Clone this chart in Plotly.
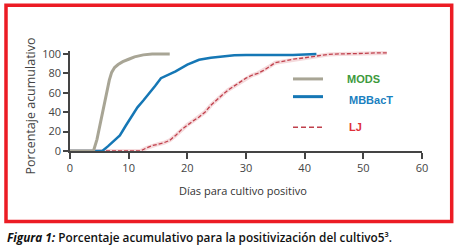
import plotly.graph_objects as go

# ---- data ----
mods_days = [0, 4.0, 4.6, 5.1, 5.7, 6.2, 6.7, 7.1, 7.6, 8.2, 9.0, 10.0, 11.0, 12.5, 14.0, 17.0]
mods_pct = [0, 0, 12, 27, 45, 61, 73, 81, 86, 89, 92, 94.5, 97, 99, 100, 100]

mbbact_days = [0, 5.5, 6.5, 7.5, 8.5, 9.5, 10.5, 11.5, 12.5, 13.5, 14.5, 15.5, 16.5, 18, 20, 22, 24, 26, 28, 30, 35, 38, 42]
mbbact_pct = [0, 0, 5, 10, 16, 26, 36, 45, 52, 59, 67, 75, 78, 82, 89, 94, 96, 97.5, 98.5, 99, 99, 99, 100]

lj_days = [0, 12, 13, 14, 15, 16, 17, 18, 19, 20, 21, 22, 23, 24, 25, 26, 27, 28, 29, 30, 31, 32, 33,
           34, 35, 36, 37, 38, 40, 42, 44, 46, 48, 50, 52, 54]
lj_pct = [0, 0, 3, 5.5, 7, 8.5, 11, 16, 22, 27, 31, 35, 40, 47, 53, 58, 63, 67, 71, 75, 78, 80, 83,
          87, 91, 92, 93.5, 94.5, 96, 98, 99.5, 100, 100, 100.5, 101, 101]

series_names = ["MODS", "MBBacT", "LJ"]
x_ticks = [0, 10, 20, 30, 40, 50, 60]
y_ticks = [0, 20, 40, 60, 80, 100]

# ---- geometry (reference pixel coords) ----
FW, FH = 458, 249
L, R, T, B = 70, 422, 51.1, 151
W = R - L
H = B - T
def px(x):
    return (x - L) / W
def py(y):
    return (B - y) / H

fig = go.Figure()
fig.add_trace(go.Scatter(x=lj_days, y=lj_pct, mode="lines",
                         line=dict(color="rgba(225,150,155,0.35)", width=4),
                         hoverinfo="skip", showlegend=False))
fig.add_trace(go.Scatter(x=lj_days, y=lj_pct, mode="lines", name="LJ",
                         line=dict(color="#c0404c", width=1.3, dash="4px,2px"), showlegend=False))
fig.add_trace(go.Scatter(x=mbbact_days, y=mbbact_pct, mode="lines", name="MBBacT",
                         line=dict(color="#1577b5", width=2.5), showlegend=False))
fig.add_trace(go.Scatter(x=mods_days, y=mods_pct, mode="lines", name="MODS",
                         line=dict(color="#a8a595", width=3), showlegend=False))

font_main = "Open Sans, DejaVu Sans, sans-serif"

fig.update_layout(
    width=FW, height=FH,
    margin=dict(l=L, r=FW - R, t=T, b=FH - B, pad=0),
    paper_bgcolor="white", plot_bgcolor="white",
    font=dict(family=font_main, size=11, color="#444"),
    xaxis=dict(range=[0, 60], tickvals=x_ticks, showgrid=False, zeroline=False,
               showline=True, linecolor="#444", linewidth=1.5,
               ticks="outside", ticklen=6, tickwidth=1.5, tickcolor="#444",
               tickfont=dict(size=11, color="#444")),
    yaxis=dict(range=[0, 103], tickvals=y_ticks, showgrid=False, zeroline=False,
               showline=True, linecolor="#444", linewidth=1.5,
               ticks="outside", ticklen=5, tickwidth=1.5, tickcolor="#444",
               tickfont=dict(size=11, color="#444")),
)

annotations = [
    dict(text="Porcentaje acumulativo", xref="paper", yref="paper", x=px(30), y=py(106.5),
         textangle=-90, showarrow=False, font=dict(size=12.5, color="#444"),
         xanchor="center", yanchor="middle"),
    dict(text="Días para cultivo positivo", xref="paper", yref="paper", x=px(243), y=py(190),
         showarrow=False, font=dict(size=11, color="#333"), xanchor="center", yanchor="middle"),
    dict(text="<b><i>Figura 1:</i></b> Porcentaje acumulativo para la positivización del cultivo5³.",
         xref="paper", yref="paper", x=px(5), y=py(237), showarrow=False,
         font=dict(size=11.8, color="#111", weight=600), xanchor="left", yanchor="middle"),
]

legend_rows = [
    (series_names[0], 79, 79, "#a8a595", 3, "solid", "#3d9a3d", 345),
    (series_names[1], 96.7, 100, "#1577b5", 3, "solid", "#1a80c0", 346.5),
    (series_names[2], 127.3, 127.3, "#c0404c", 1.5, "5px,3px", "#e0303a", 346.5),
]
shapes = []
for name, ly, ty, lc, lw, dash, tc, tx in legend_rows:
    shapes.append(dict(type="line", xref="paper", yref="paper",
                       x0=px(293), x1=px(323), y0=py(ly), y1=py(ly),
                       line=dict(color=lc, width=lw, dash=dash)))
    annotations.append(dict(text="<b>%s</b>" % name, xref="paper", yref="paper",
                            x=px(tx), y=py(ty), showarrow=False, xanchor="left", yanchor="middle",
                            font=dict(family="Liberation Sans, Arial, sans-serif", size=11, color=tc)))

shapes.append(dict(type="rect", xref="paper", yref="paper",
                   x0=px(6), x1=px(451.7), y0=py(221.5), y1=py(5.5),
                   line=dict(color="#ec1c24", width=3.5)))

fig.update_layout(annotations=annotations, shapes=shapes)
fig.write_html("out.html", config={"displayModeBar": False},
               post_script="document.body.style.margin='0';")
